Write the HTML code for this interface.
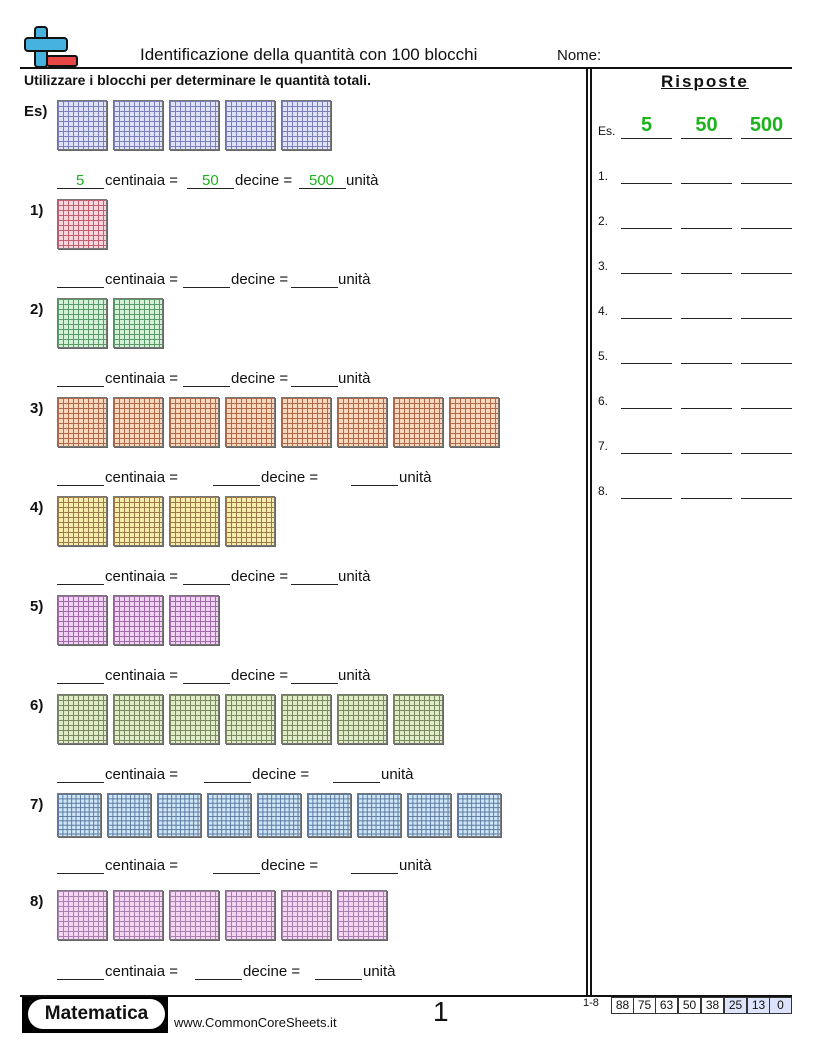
<!DOCTYPE html>
<html><head><meta charset="utf-8">
<style>
*{margin:0;padding:0;box-sizing:border-box}
body{width:816px;height:1056px;position:relative;background:#fff;font-family:"Liberation Sans",sans-serif;color:#111;overflow:hidden}
.a{position:absolute;white-space:nowrap}
.row{position:absolute;left:57px;display:flex}
.b{width:50px;height:50px;margin-right:6px;border:1px solid #777;box-shadow:1px 1px 0 #666;}
.s .b{width:44px;height:44px;margin-right:6px;background-size:4.4px 4.4px}
.b{background-size:5px 5px}
.c0{background-color:#dfe1f6;background-image:linear-gradient(#7a80b8 1px,transparent 1px),linear-gradient(90deg,#7a80b8 1px,transparent 1px)}
.c1{background-color:#f6d6dc;background-image:linear-gradient(#c06070 1px,transparent 1px),linear-gradient(90deg,#c06070 1px,transparent 1px)}
.c2{background-color:#d4f0d6;background-image:linear-gradient(#5a9a6a 1px,transparent 1px),linear-gradient(90deg,#5a9a6a 1px,transparent 1px)}
.c3{background-color:#f8d8bc;background-image:linear-gradient(#b0684a 1px,transparent 1px),linear-gradient(90deg,#b0684a 1px,transparent 1px)}
.c4{background-color:#f6ecac;background-image:linear-gradient(#9a7a4a 1px,transparent 1px),linear-gradient(90deg,#9a7a4a 1px,transparent 1px)}
.c5{background-color:#f0d2f2;background-image:linear-gradient(#a06aa8 1px,transparent 1px),linear-gradient(90deg,#a06aa8 1px,transparent 1px)}
.c6{background-color:#e0ecc8;background-image:linear-gradient(#7a8a60 1px,transparent 1px),linear-gradient(90deg,#7a8a60 1px,transparent 1px)}
.c7{background-color:#cfe6f6;background-image:linear-gradient(#5a78a0 1px,transparent 1px),linear-gradient(90deg,#5a78a0 1px,transparent 1px)}
.c8{background-color:#f4d6f2;background-image:linear-gradient(#a880b0 1px,transparent 1px),linear-gradient(90deg,#a880b0 1px,transparent 1px)}
.lb{position:absolute;left:30px;font-weight:bold;font-size:15px}
.u{position:absolute;height:1px;background:#222}
.t{position:absolute;font-size:15px;white-space:nowrap}
.g{color:#1db31d}
.al{position:absolute;height:1px;background:#222;width:51px}
.an{position:absolute;left:598px;font-size:12px}
.sc{position:absolute;top:997px;height:17px;border:1px solid #333;font-size:12px;text-align:center;line-height:15px;width:23px}
</style></head><body>
<!-- logo -->
<div class="a" style="left:34px;top:26px;width:14px;height:42px;background:#45b3de;border:2px solid #111;border-radius:4px"></div>
<div class="a" style="left:24px;top:37px;width:44px;height:15px;background:#45b3de;border:2px solid #111;border-radius:4px"></div>
<div class="a" style="left:36px;top:39px;width:10px;height:11px;background:#45b3de"></div>
<div class="a" style="left:46px;top:55px;width:32px;height:12px;background:#e84545;border:2px solid #111;border-radius:3px"></div>
<div class="a" style="left:140px;top:45px;font-size:17px">Identificazione della quantità con 100 blocchi</div>
<div class="a" style="left:557px;top:47px;font-size:15px">Nome:</div>
<div class="a" style="left:20px;top:67px;width:772px;height:2px;background:#111"></div>
<div class="a" style="left:24px;top:72px;font-size:14px;font-weight:bold">Utilizzare i blocchi per determinare le quantità totali.</div>
<!-- separator -->
<div class="a" style="left:586px;top:69px;width:2px;height:927px;background:#111"></div>
<div class="a" style="left:590px;top:69px;width:2px;height:927px;background:#111"></div>
<div class="a" style="left:20px;top:995px;width:772px;height:2px;background:#111"></div>

<!-- rows -->
<div class="lb" style="top:103px;left:24px">Es)</div>
<div class="row" style="top:100px"><div class="b c0"></div><div class="b c0"></div><div class="b c0"></div><div class="b c0"></div><div class="b c0"></div></div>
<div class="u" style="left:57px;top:188px;width:47px"></div><div class="t g" style="left:76px;top:172px">5</div>
<div class="t" style="left:105px;top:172px">centinaia =</div>
<div class="u" style="left:187px;top:188px;width:47px"></div><div class="t g" style="left:202px;top:172px">50</div>
<div class="t" style="left:235px;top:172px">decine =</div>
<div class="u" style="left:299px;top:188px;width:47px"></div><div class="t g" style="left:309px;top:172px">500</div>
<div class="t" style="left:346px;top:172px">unità</div>

<div class="lb" style="top:202px">1)</div>
<div class="row" style="top:199px"><div class="b c1"></div></div>
<div class="u" style="left:57px;top:287px;width:47px"></div><div class="t" style="left:105px;top:271px">centinaia =</div>
<div class="u" style="left:183px;top:287px;width:47px"></div><div class="t" style="left:231px;top:271px">decine =</div>
<div class="u" style="left:291px;top:287px;width:47px"></div><div class="t" style="left:338px;top:271px">unità</div>

<div class="lb" style="top:301px">2)</div>
<div class="row" style="top:298px"><div class="b c2"></div><div class="b c2"></div></div>
<div class="u" style="left:57px;top:386px;width:47px"></div><div class="t" style="left:105px;top:370px">centinaia =</div>
<div class="u" style="left:183px;top:386px;width:47px"></div><div class="t" style="left:231px;top:370px">decine =</div>
<div class="u" style="left:291px;top:386px;width:47px"></div><div class="t" style="left:338px;top:370px">unità</div>

<div class="lb" style="top:400px">3)</div>
<div class="row" style="top:397px"><div class="b c3"></div><div class="b c3"></div><div class="b c3"></div><div class="b c3"></div><div class="b c3"></div><div class="b c3"></div><div class="b c3"></div><div class="b c3"></div></div>
<div class="u" style="left:57px;top:485px;width:47px"></div><div class="t" style="left:105px;top:469px">centinaia =</div>
<div class="u" style="left:213px;top:485px;width:47px"></div><div class="t" style="left:261px;top:469px">decine =</div>
<div class="u" style="left:351px;top:485px;width:47px"></div><div class="t" style="left:399px;top:469px">unità</div>

<div class="lb" style="top:499px">4)</div>
<div class="row" style="top:496px"><div class="b c4"></div><div class="b c4"></div><div class="b c4"></div><div class="b c4"></div></div>
<div class="u" style="left:57px;top:584px;width:47px"></div><div class="t" style="left:105px;top:568px">centinaia =</div>
<div class="u" style="left:183px;top:584px;width:47px"></div><div class="t" style="left:231px;top:568px">decine =</div>
<div class="u" style="left:291px;top:584px;width:47px"></div><div class="t" style="left:338px;top:568px">unità</div>

<div class="lb" style="top:598px">5)</div>
<div class="row" style="top:595px"><div class="b c5"></div><div class="b c5"></div><div class="b c5"></div></div>
<div class="u" style="left:57px;top:683px;width:47px"></div><div class="t" style="left:105px;top:667px">centinaia =</div>
<div class="u" style="left:183px;top:683px;width:47px"></div><div class="t" style="left:231px;top:667px">decine =</div>
<div class="u" style="left:291px;top:683px;width:47px"></div><div class="t" style="left:338px;top:667px">unità</div>

<div class="lb" style="top:697px">6)</div>
<div class="row" style="top:694px"><div class="b c6"></div><div class="b c6"></div><div class="b c6"></div><div class="b c6"></div><div class="b c6"></div><div class="b c6"></div><div class="b c6"></div></div>
<div class="u" style="left:57px;top:782px;width:47px"></div><div class="t" style="left:105px;top:766px">centinaia =</div>
<div class="u" style="left:204px;top:782px;width:47px"></div><div class="t" style="left:252px;top:766px">decine =</div>
<div class="u" style="left:333px;top:782px;width:47px"></div><div class="t" style="left:381px;top:766px">unità</div>

<div class="lb" style="top:796px">7)</div>
<div class="row s" style="top:793px"><div class="b c7"></div><div class="b c7"></div><div class="b c7"></div><div class="b c7"></div><div class="b c7"></div><div class="b c7"></div><div class="b c7"></div><div class="b c7"></div><div class="b c7"></div></div>
<div class="u" style="left:57px;top:873px;width:47px"></div><div class="t" style="left:105px;top:857px">centinaia =</div>
<div class="u" style="left:213px;top:873px;width:47px"></div><div class="t" style="left:261px;top:857px">decine =</div>
<div class="u" style="left:351px;top:873px;width:47px"></div><div class="t" style="left:399px;top:857px">unità</div>

<div class="lb" style="top:893px">8)</div>
<div class="row" style="top:890px"><div class="b c8"></div><div class="b c8"></div><div class="b c8"></div><div class="b c8"></div><div class="b c8"></div><div class="b c8"></div></div>
<div class="u" style="left:57px;top:979px;width:47px"></div><div class="t" style="left:105px;top:963px">centinaia =</div>
<div class="u" style="left:195px;top:979px;width:47px"></div><div class="t" style="left:243px;top:963px">decine =</div>
<div class="u" style="left:315px;top:979px;width:47px"></div><div class="t" style="left:363px;top:963px">unità</div>

<!-- answers -->
<div class="a" style="left:661px;top:72px;font-size:17px;font-weight:bold;letter-spacing:2px;text-decoration:underline">Risposte</div>
<div class="an" style="top:124px">Es.</div>
<div class="a g" style="left:621px;top:114px;width:51px;text-align:center;font-size:20px;font-weight:bold">5</div>
<div class="a g" style="left:681px;top:114px;width:51px;text-align:center;font-size:20px;font-weight:bold">50</div>
<div class="a g" style="left:741px;top:114px;width:51px;text-align:center;font-size:20px;font-weight:bold">500</div>
<div class="al" style="left:621px;top:138px"></div><div class="al" style="left:681px;top:138px"></div><div class="al" style="left:741px;top:138px"></div>

<div class="an" style="top:169px">1.</div><div class="al" style="left:621px;top:183px"></div><div class="al" style="left:681px;top:183px"></div><div class="al" style="left:741px;top:183px"></div>
<div class="an" style="top:214px">2.</div><div class="al" style="left:621px;top:228px"></div><div class="al" style="left:681px;top:228px"></div><div class="al" style="left:741px;top:228px"></div>
<div class="an" style="top:259px">3.</div><div class="al" style="left:621px;top:273px"></div><div class="al" style="left:681px;top:273px"></div><div class="al" style="left:741px;top:273px"></div>
<div class="an" style="top:304px">4.</div><div class="al" style="left:621px;top:318px"></div><div class="al" style="left:681px;top:318px"></div><div class="al" style="left:741px;top:318px"></div>
<div class="an" style="top:349px">5.</div><div class="al" style="left:621px;top:363px"></div><div class="al" style="left:681px;top:363px"></div><div class="al" style="left:741px;top:363px"></div>
<div class="an" style="top:394px">6.</div><div class="al" style="left:621px;top:408px"></div><div class="al" style="left:681px;top:408px"></div><div class="al" style="left:741px;top:408px"></div>
<div class="an" style="top:439px">7.</div><div class="al" style="left:621px;top:453px"></div><div class="al" style="left:681px;top:453px"></div><div class="al" style="left:741px;top:453px"></div>
<div class="an" style="top:484px">8.</div><div class="al" style="left:621px;top:498px"></div><div class="al" style="left:681px;top:498px"></div><div class="al" style="left:741px;top:498px"></div>

<!-- footer -->
<div class="a" style="left:22px;top:997px;width:146px;height:36px;background:#000"></div>
<div class="a" style="left:28px;top:999px;width:137px;height:30px;background:#fff;border-radius:15px;font-size:19px;font-weight:bold;text-align:center;line-height:30px">Matematica</div>
<div class="a" style="left:174px;top:1015px;font-size:13px">www.CommonCoreSheets.it</div>
<div class="a" style="left:433px;top:996px;font-size:28px">1</div>
<div class="a" style="left:583px;top:997px;font-size:11px">1-8</div>
<div class="sc" style="left:611px">88</div><div class="sc" style="left:633px">75</div><div class="sc" style="left:655px">63</div><div class="sc" style="left:678px">50</div><div class="sc" style="left:701px">38</div>
<div class="sc" style="left:724px;background:#dde3fb">25</div><div class="sc" style="left:747px;background:#dde3fb">13</div><div class="sc" style="left:769px;background:#dde3fb">0</div>
</body></html>
